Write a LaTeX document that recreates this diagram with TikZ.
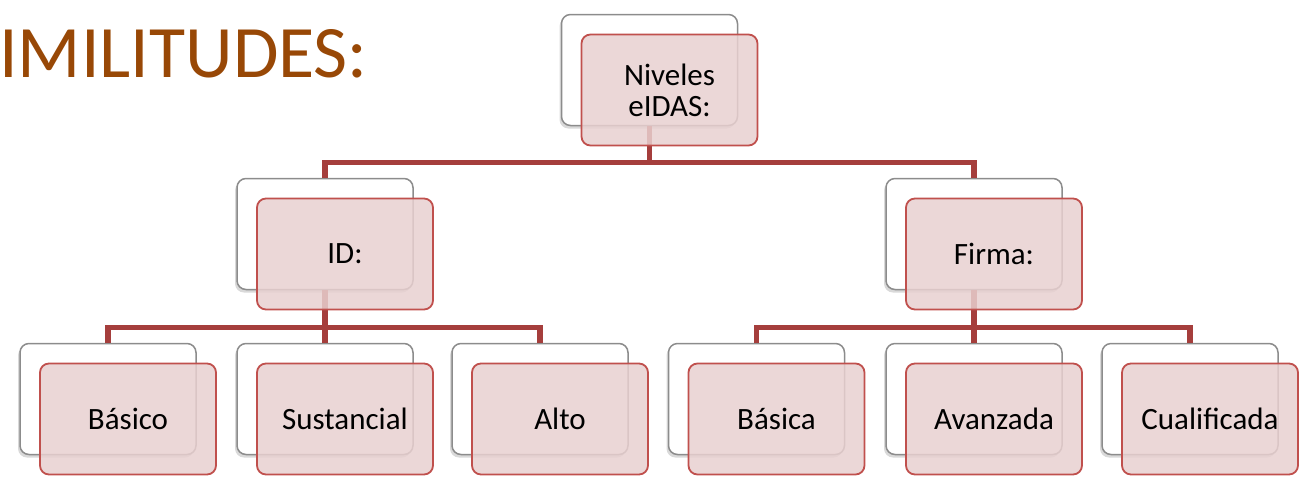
\documentclass[tikz,border=0pt]{standalone}
\usepackage{fontspec}
\setmainfont{Carlito}
\usepackage{tikz}
\usetikzlibrary{shadows}
\definecolor{titulo}{RGB}{152,72,6}
\definecolor{rojo}{RGB}{192,80,77}
\definecolor{conector}{RGB}{165,62,60}
\definecolor{rosa}{RGB}{232,208,208}

\begin{document}
\begin{tikzpicture}[x=1pt,y=-1pt,
        fondo/.style={draw=gray!90, line width=1.5pt, fill=white, rounded corners=9pt,
                minimum width=176pt, minimum height=111pt, inner sep=0pt,
                drop shadow={shadow xshift=-2pt, shadow yshift=-3pt, opacity=0.3}},
        caja/.style={draw=rojo, line width=1.8pt, fill=rosa, fill opacity=0.85, text opacity=1,
                rounded corners=9pt, minimum width=176pt, minimum height=111pt, inner sep=0pt,
                align=center, font=\fontsize{31}{31}\selectfont},
        rama/.style={draw=conector, line width=5.5pt}]
        \useasboundingbox (0,0) rectangle (1306,483);
        % titulo cortado
        \node[anchor=base west, inner sep=0pt, text=titulo, font=\fontsize{74}{74}\selectfont] (titulo) at (-1,77) {IMILITUDES:};
        % cajas de fondo
        \node[fondo] (fniv) at (649.5,70) {};
        \node[fondo] (fid) at (325,234) {};
        \node[fondo] (ffir) at (974,234) {};
        \foreach \n/\x in {bas/108,sus/325,alt/540,basa/756.5,ava/974,cua/1190}
                \node[fondo] (f\n) at (\x,399) {};
        % ramas
        \draw[rama] (fniv.south) -- ++(0,36) -| (fid.north);
        \draw[rama] (fniv.south) -- ++(0,36) -| (ffir.north);
        \foreach \n in {bas,sus,alt}
                \draw[rama] (fid.south) -- ++(0,37) -| (f\n.north);
        \foreach \n in {basa,ava,cua}
                \draw[rama] (ffir.south) -- ++(0,37) -| (f\n.north);
        % cajas con texto
        \node[caja] (niv) at ([shift={(20,20)}]fniv.center) {Niveles\\eIDAS:};
        \node[caja] (id) at ([shift={(20,20)}]fid.center) {ID:};
        \node[caja] (fir) at ([shift={(20,20)}]ffir.center) {Firma:};
        \foreach \n/\t in {bas/Básico,sus/Sustancial,alt/Alto,basa/Básica,ava/Avanzada,cua/Cualificada}
                \node[caja] (\n) at ([shift={(20,20)}]f\n.center) {\t};
\end{tikzpicture}
\end{document}
